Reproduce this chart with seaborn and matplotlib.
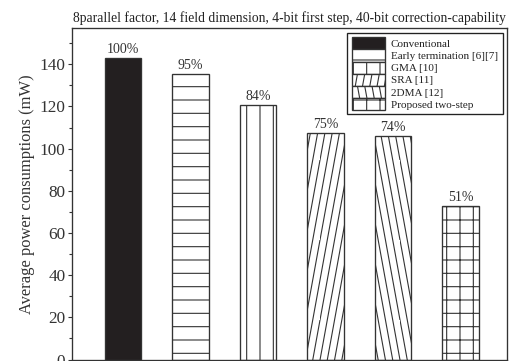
import warnings
import numpy as np
import pandas as pd
import seaborn as sns
import matplotlib
matplotlib.use("Agg")
import matplotlib.pyplot as plt
from matplotlib import hatch as mhatch
from matplotlib.path import Path

# Average power consumption (mW) of each decoder architecture
schemes = ["Conventional", "Early termination [6][7]", "GMA [10]", "SRA [11]",
           "2DMA [12]", "Proposed two-step"]
power_mw = [142.8, 135.3, 120.6, 107.2, 106.0, 72.6]
hatches = ["", "-", "|", "y", "z", "+"]
fills = ["#231f20", "white", "white", "white", "white", "white"]
yticks = [0, 20, 40, 60, 80, 100, 120, 140]

title = ("8parallel factor, 14 field dimension, 4-bit first step, "
         "40-bit correction-capability")
ylabel = "Average power consumptions (mW)"


class SteepHatch(mhatch.HatchPatternBase):
    """Steep diagonal lines: 'y' leans right (like '/'), 'z' leans left."""

    def __init__(self, hatch, density):
        self.sign = 1 if "y" in hatch else (-1 if "z" in hatch else 0)
        self.n = int(round(density * 11 / 6)) if self.sign else 0
        self.k = 2
        self.num_lines = self.n + self.k if self.sign else 0
        self.num_vertices = self.num_lines * 2

    def set_vertices_and_codes(self, vertices, codes):
        n, k = self.n, self.k
        if self.sign > 0:
            starts = np.arange(-k, n) / n
            ends = starts + k / n
        else:
            starts = np.arange(0, n + k) / n
            ends = starts - k / n
        vertices[0::2, 0] = starts
        vertices[0::2, 1] = 0.0
        vertices[1::2, 0] = ends
        vertices[1::2, 1] = 1.0
        codes[0::2] = Path.MOVETO
        codes[1::2] = Path.LINETO


mhatch._hatch_types.append(SteepHatch)
warnings.filterwarnings("ignore")

sns.set_style("ticks")
plt.rcParams["font.family"] = ["Liberation Serif", "DejaVu Serif"]
plt.rcParams["hatch.linewidth"] = 1.0
plt.rcParams["hatch.color"] = "#333333"

df = pd.DataFrame({"scheme": schemes, "power": power_mw})

fig = plt.figure(figsize=(510 / 80, 361 / 80), dpi=80)
ax = fig.add_axes([72 / 510, 1.5 / 361, 435 / 510, (359.5 - 28.4) / 361])

sns.barplot(data=df, x="scheme", y="power", hue="scheme", order=schemes,
            hue_order=schemes, palette=fills, width=0.54, dodge=False,
            legend=False, ax=ax, edgecolor="#333333", linewidth=1.2,
            saturation=1)

handles = []
for cont, h, fc, v in zip(ax.containers, hatches, fills, power_mw):
    for p in cont.patches:
        p.set_hatch(h)
        p.set_facecolor(fc)
        p.set_edgecolor("#333333")
    pct = round(100 * v / power_mw[0])
    ax.bar_label(cont, labels=[f"{pct}%"], padding=2, fontsize=12.5,
                 color="#333333")
    handles.append(cont.patches[0])

ax.set_xlim(-0.755, 5.685)
ax.set_ylim(0, 157)
ax.set_yticks(yticks)
ax.set_yticks(np.arange(10, 157, 20), minor=True)
ax.set_xticks([])
ax.set_xlabel("")
ax.set_ylabel(ylabel, fontsize=14.8, color="#333333", labelpad=4)
ax.tick_params(axis="y", which="major", length=4, width=1, labelsize=15.5,
               colors="#333333", pad=2)
ax.tick_params(axis="y", which="minor", length=2.5, width=1, colors="#333333")
for s in ax.spines.values():
    s.set_visible(True)
    s.set_color("#333333")
    s.set_linewidth(1.2)

ax.set_title(title, fontsize=12.3, color="#222222", pad=6)

leg = ax.legend(handles=handles, labels=schemes, loc="upper right",
                fontsize=10, handlelength=3.0, handleheight=1.3,
                labelspacing=0, handletextpad=0.55, borderpad=0.4,
                borderaxespad=0.4, fancybox=False, framealpha=1,
                edgecolor="#222222")
leg.get_frame().set_linewidth(1.2)
for t in leg.get_texts():
    t.set_color("#222222")

fig.savefig("out.png", dpi=80)
